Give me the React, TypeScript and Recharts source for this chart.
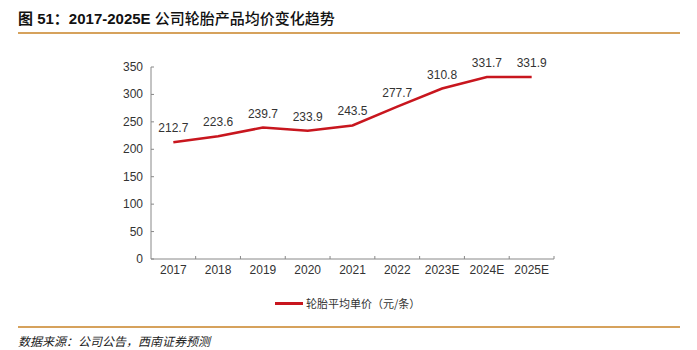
import React from 'react';
import { LineChart, Line, XAxis, YAxis, LabelList } from 'recharts';

const categories = ['2017', '2018', '2019', '2020', '2021', '2022', '2023E', '2024E', '2025E'];
const prices = [212.7, 223.6, 239.7, 233.9, 243.5, 277.7, 310.8, 331.7, 331.9];
const yTicks = [0, 50, 100, 150, 200, 250, 300, 350];

const seriesName = '轮胎平均单价（元/条）';
const data = categories.map((c, i) => ({ year: c, price: prices[i] }));

const RED = '#C8161E';
const GOLD = '#D6A25C';
const AXIS = '#888';
const FONT = 'Liberation Sans, Arial, sans-serif';
const PLOT_W = 402;
const HALF_BAND = PLOT_W / categories.length / 2;

const XTick = (props: any) => {
  const { x, y, payload } = props;
  return (
    <g>
      <line x1={x + HALF_BAND} y1={y - 8} x2={x + HALF_BAND} y2={y - 11} stroke={AXIS} strokeWidth={1} />
      <text x={x} y={y + 7} textAnchor="middle" fill="#333" fontSize={12} fontFamily={FONT}>
        {payload.value}
      </text>
    </g>
  );
};

const YTick = (props: any) => {
  const { x, y, payload } = props;
  return (
    <g>
      <line x1={x + 8} y1={y} x2={x + 11} y2={y} stroke={AXIS} strokeWidth={1} />
      <text x={x} y={y + 4} textAnchor="end" fill="#333" fontSize={12} fontFamily={FONT}>
        {payload.value}
      </text>
    </g>
  );
};

export default function App() {
  return (
    <div style={{ position: 'absolute', left: 0, top: 0, width: 697, height: 350, background: '#fff', fontFamily: '"Noto Sans CJK SC", sans-serif' }}>
      <div style={{ position: 'absolute', left: 18, top: 7, fontSize: 15, color: '#111', whiteSpace: 'nowrap' }}>
        <span style={{ fontWeight: 700, fontFamily: 'Liberation Sans, "Noto Sans CJK SC", sans-serif' }}>图 51：2017-2025E </span>
        <span style={{ fontWeight: 500 }}>公司轮胎产品均价变化趋势</span>
      </div>
      <div style={{ position: 'absolute', left: 18, top: 32, width: 662, height: 2, background: GOLD }} />
      <div style={{ position: 'absolute', left: 0, top: 0 }}>
        <LineChart width={697} height={350} data={data} margin={{ top: 67, right: 143, bottom: 61, left: 99 }}>
          <XAxis
            dataKey="year"
            axisLine={{ stroke: AXIS }}
            tickLine={false}
            tickSize={6}
            tickMargin={2}
            tick={<XTick />}
            height={30}
            interval={0}
            padding={{ left: HALF_BAND, right: HALF_BAND }}
          />
          <YAxis
            domain={[0, 350]}
            ticks={yTicks}
            width={52}
            axisLine={{ stroke: AXIS }}
            tickLine={false}
            tickSize={6}
            tickMargin={2}
            tick={<YTick />}
            interval={0}
          />
          <Line
            dataKey="price"
            name={seriesName}
            stroke={RED}
            strokeWidth={2.5}
            dot={false}
            isAnimationActive={false}
            type="linear"
          >
            <LabelList dataKey="price" position="top" offset={10} fill="#333" fontSize={12} fontFamily={FONT} />
          </Line>
        </LineChart>
      </div>
      <div style={{ position: 'absolute', left: 275, top: 295, display: 'flex', alignItems: 'center', whiteSpace: 'nowrap' }}>
        <div style={{ width: 28, height: 3, background: RED, marginRight: 3 }} />
        <span style={{ fontSize: 11, color: '#333' }}>{seriesName}</span>
      </div>
      <div style={{ position: 'absolute', left: 18, top: 326, width: 662, height: 2, background: GOLD }} />
      <div style={{ position: 'absolute', left: 18, top: 332, fontSize: 12, color: '#222', fontStyle: 'italic', whiteSpace: 'nowrap' }}>
        数据来源：公司公告，西南证券预测
      </div>
    </div>
  );
}
